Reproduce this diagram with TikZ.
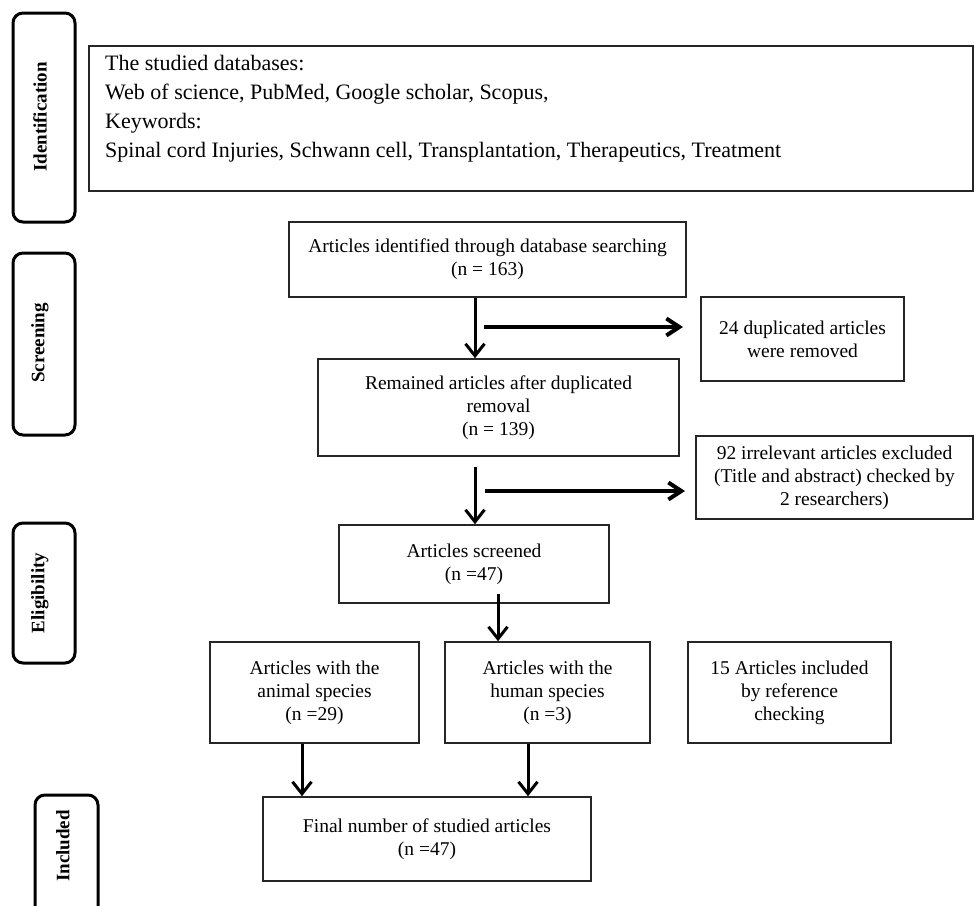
\documentclass[tikz,border=0pt]{standalone}
\usepackage{fontspec}
\setmainfont{Liberation Serif}
\usetikzlibrary{arrows.meta}
\begin{document}
\begin{tikzpicture}[x=1pt,y=-1pt,
  box/.style={draw=black!85, line width=1.6pt, align=center, inner sep=0pt, font=\fontsize{19.5}{23}\selectfont},
  side/.style={draw=black, line width=3pt, rounded corners=10pt, inner sep=0pt},
  sidelabel/.style={rotate=90, inner sep=0pt, font=\fontsize{19}{22}\selectfont\bfseries},
  varrow/.style={line width=3pt, -{Straight Barb[length=12pt,width=19pt]}},
  harrow/.style={line width=4pt, -{Straight Barb[length=13pt,width=17pt]}},
]
\useasboundingbox (0,0) rectangle (974,905);
\clip (0,0) rectangle (974,905);

% phase labels
\node[side, minimum width=62pt, minimum height=209pt] (sI) at (44,117.5) {};
\node[sidelabel] (tI) at (40,117) {Identification};
\node[side, minimum width=62pt, minimum height=182pt] (sS) at (44,344) {};
\node[sidelabel] (tS) at (40,343) {Screening};
\node[side, minimum width=62pt, minimum height=140pt] (sE) at (44,593) {};
\node[sidelabel] (tE) at (40,593) {Eligibility};
\node[side, minimum width=63pt, minimum height=140pt] (sC) at (66.5,865) {};
\node[sidelabel] (tC) at (63,846) {Included};

% top box
\node[box, minimum width=884pt, minimum height=145pt] (top) at (531,118.5) {};
\node[anchor=west, align=left, inner sep=0pt, font=\fontsize{22}{29}\selectfont] (toptext) at (105,108.5)
  {The studied databases:\\ Web of science, PubMed, Google scholar, Scopus,\\ Keywords:\\ Spinal cord Injuries, Schwann cell, Transplantation, Therapeutics, Treatment};

% flow boxes
\node[box, minimum width=397pt, minimum height=75pt] (b1) at (487.5,259.5) {Articles identified through database searching\\(n = 163)};
\node[box, minimum width=203pt, minimum height=84pt] (dup) at (802.5,339) {24 duplicated articles\\were removed};
\node[box, minimum width=361pt, minimum height=97pt] (b2) at (498.5,407.5) {Remained articles after duplicated\\removal\\(n = 139)};
\node[box, minimum width=277pt, minimum height=83pt] (irr) at (834.5,477.5) {92 irrelevant articles excluded\\(Title and abstract) checked by\\2 researchers)};
\node[box, minimum width=270pt, minimum height=78pt] (b3) at (474,564) {Articles screened\\(n =47)};
\node[box, minimum width=209pt, minimum height=101pt] (ani) at (314.5,692.5) {Articles with the\\animal species\\(n =29)};
\node[box, minimum width=205pt, minimum height=101pt] (hum) at (547.5,692.5) {Articles with the\\human species\\(n =3)};
\node[box, minimum width=203pt, minimum height=101pt] (ref) at (789.5,692.5) {15 Articles included\\by reference\\checking};
\node[box, minimum width=328pt, minimum height=84pt] (fin) at (427,839) {Final number of studied articles\\(n =47)};

% connectors
\coordinate (a1x) at (475,0);
\draw[varrow] (b1.south -| a1x) -- (b2.north -| a1x);
\coordinate (h1s) at (484,327);
\coordinate (h1e) at (683,327);
\draw[harrow] (h1s) -- (h1e);
\coordinate (a2s) at (475,467);
\draw[varrow] (a2s) -- (a2s |- b3.north);
\coordinate (h2s) at (485,491);
\coordinate (h2e) at (685,491);
\draw[harrow] (h2s) -- (h2e);
\coordinate (a3s) at (498,594);
\draw[varrow] (a3s) -- (a3s |- hum.north);
\coordinate (a4x) at (302,0);
\draw[varrow] (ani.south -| a4x) -- (fin.north -| a4x);
\coordinate (a5x) at (528,0);
\draw[varrow] (hum.south -| a5x) -- (fin.north -| a5x);
\end{tikzpicture}
\end{document}
